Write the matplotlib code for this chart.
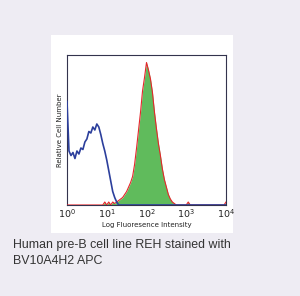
import numpy as np
import matplotlib
matplotlib.use("Agg")
import matplotlib.pyplot as plt
from matplotlib.patches import Rectangle

# log10 fluorescence positions (decades)
log_pos = [round(0.05 * i, 2) for i in range(81)]

# isotype control (blue), relative height
blue = [0.69, 0.36, 0.33, 0.35, 0.31, 0.36, 0.34, 0.38, 0.37, 0.42,
        0.44, 0.49, 0.48, 0.52, 0.50, 0.54, 0.52, 0.47, 0.41, 0.36,
        0.30, 0.23, 0.16, 0.09, 0.05, 0.02, 0.00] + [0.0] * 54

# stained sample (green fill / red outline)
stained = [0.0] * 19 + [
    0.02, 0.00, 0.02, 0.00, 0.02, 0.01, 0.02, 0.03, 0.04, 0.05,
    0.07, 0.09, 0.12, 0.15, 0.19, 0.27, 0.38, 0.50, 0.62, 0.76,
    0.85, 0.95, 0.90, 0.84, 0.75, 0.62, 0.51, 0.41, 0.33, 0.24,
    0.17, 0.12, 0.07, 0.04, 0.02, 0.01, 0.00, 0.00, 0.00, 0.00,
    0.00, 0.00, 0.02, 0.00, 0.00, 0.00, 0.00, 0.00, 0.00, 0.00,
    0.00, 0.00, 0.00, 0.00, 0.00, 0.00, 0.00, 0.00, 0.00, 0.00,
    0.00, 0.02]

xtick_vals = [1, 10, 100, 1000, 10000]
xtick_labels = ["$10^{0}$", "$10^{1}$", "$10^{2}$", "$10^{3}$", "$10^{4}$"]

fig = plt.figure(figsize=(3.0, 2.96), dpi=100)
fig.patch.set_facecolor("#eeecf3")

# white panel
panel = Rectangle((51 / 300, 1 - 233 / 296), 182 / 300, 198 / 296,
                  transform=fig.transFigure, facecolor="white",
                  edgecolor="none", zorder=-10)
fig.add_artist(panel)

ax = fig.add_axes([67 / 300, 1 - 205 / 296, 159 / 300, 150 / 296])
ax.set_zorder(1)
ax.set_facecolor("white")

x = 10 ** np.array(log_pos)
ax.fill_between(x, 0, stained, color="#60bb5c", linewidth=0, zorder=2)
ax.plot(x, stained, color="#e5262b", linewidth=0.8, zorder=3)
ax.plot(x, blue, color="#2c3f9c", linewidth=1.2, zorder=4)

ax.set_xscale("log")
ax.set_xlim(1, 10000)
ax.set_ylim(0, 1)
ax.set_xticks(xtick_vals)
ax.set_xticklabels(xtick_labels, fontsize=6.8, color="#222222")
ax.xaxis.set_minor_locator(matplotlib.ticker.NullLocator())
ax.set_yticks([])
ax.tick_params(axis="x", length=0, pad=2)
for s in ax.spines.values():
    s.set_color("#33334d")
    s.set_linewidth(0.8)

ax.set_xlabel("Log Fluoresence Intensity", fontsize=5, color="#222222", labelpad=1)
ax.set_ylabel("Relative Cell Number", fontsize=5, color="#222222", labelpad=3)

fig.text(13 / 300, 1 - 245 / 296, "Human pre-B cell line REH stained with",
         fontsize=8.9, family="Liberation Sans", color="#333333", va="center")
fig.text(13 / 300, 1 - 261 / 296, "BV10A4H2 APC",
         fontsize=8.9, family="Liberation Sans", color="#333333", va="center")

fig.savefig("out.png", dpi=100, facecolor=fig.get_facecolor())
